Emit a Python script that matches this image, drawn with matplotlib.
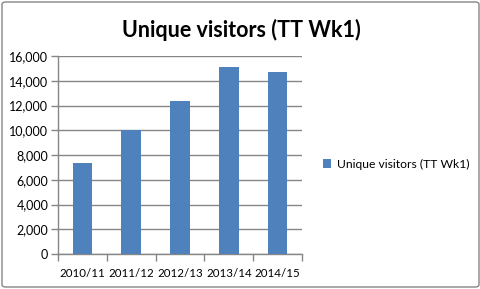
import matplotlib
matplotlib.use("Agg")
import matplotlib.pyplot as plt
from matplotlib.patches import FancyBboxPatch
import numpy as np

plt.rcParams['font.family'] = ['Lato', 'DejaVu Sans']

seasons = ["2010/11", "2011/12", "2012/13", "2013/14", "2014/15"]
visitors = [7350, 10000, 12350, 15100, 14700]
series_name = "Unique visitors (TT Wk1)"

W, H = 481, 289
fig = plt.figure(figsize=(W / 100, H / 100), dpi=100)

# chart border
fig.patches.append(FancyBboxPatch((2 / W, 2 / H), (W - 4) / W, (H - 4) / H,
                                  boxstyle="round,pad=0,rounding_size=0.008",
                                  transform=fig.transFigure, fill=False,
                                  edgecolor="#868686", linewidth=1.0))

ax = fig.add_axes([58 / W, (H - 254) / H, (302 - 58) / W, (254 - 56) / H])
r = np.arange(len(seasons))
bars = ax.bar(r, visitors, 0.4, color="#4F81BD", label=series_name, zorder=3)

ax.set_xlim(-0.5, len(seasons) - 0.5)
ax.set_ylim(0, 16000)
ax.set_yticks(np.arange(0, 16001, 2000))
ax.set_yticklabels([f"{v:,}" for v in range(0, 16001, 2000)], fontsize=9)
ax.set_xticks(r)
ax.set_xticklabels(seasons, fontsize=8.3)
ax.set_xticks(np.arange(-0.5, len(seasons), 1), minor=True)
ax.tick_params(axis='x', which='major', length=0, pad=10)
ax.tick_params(axis='x', which='minor', length=5, color="#868686", width=1)
ax.tick_params(axis='y', length=5, color="#868686", width=1, pad=2)
ax.grid(axis='y', color="#868686", linewidth=1, zorder=0)
for s in ["top", "right"]:
    ax.spines[s].set_visible(False)
for s in ["left", "bottom"]:
    ax.spines[s].set_color("#868686")
    ax.spines[s].set_linewidth(1)

fig.text(241 / W, 1 - 30 / H, series_name, ha="center", va="center",
         fontsize=15.5, fontweight="bold")

fig.legend(handles=[bars], labels=[series_name], loc="center left",
           bbox_to_anchor=(312 / W, 1 - 164 / H), frameon=False, fontsize=8.7,
           handlelength=0.7, handleheight=0.7, handletextpad=0.5)

fig.savefig("out.png", dpi=100)
